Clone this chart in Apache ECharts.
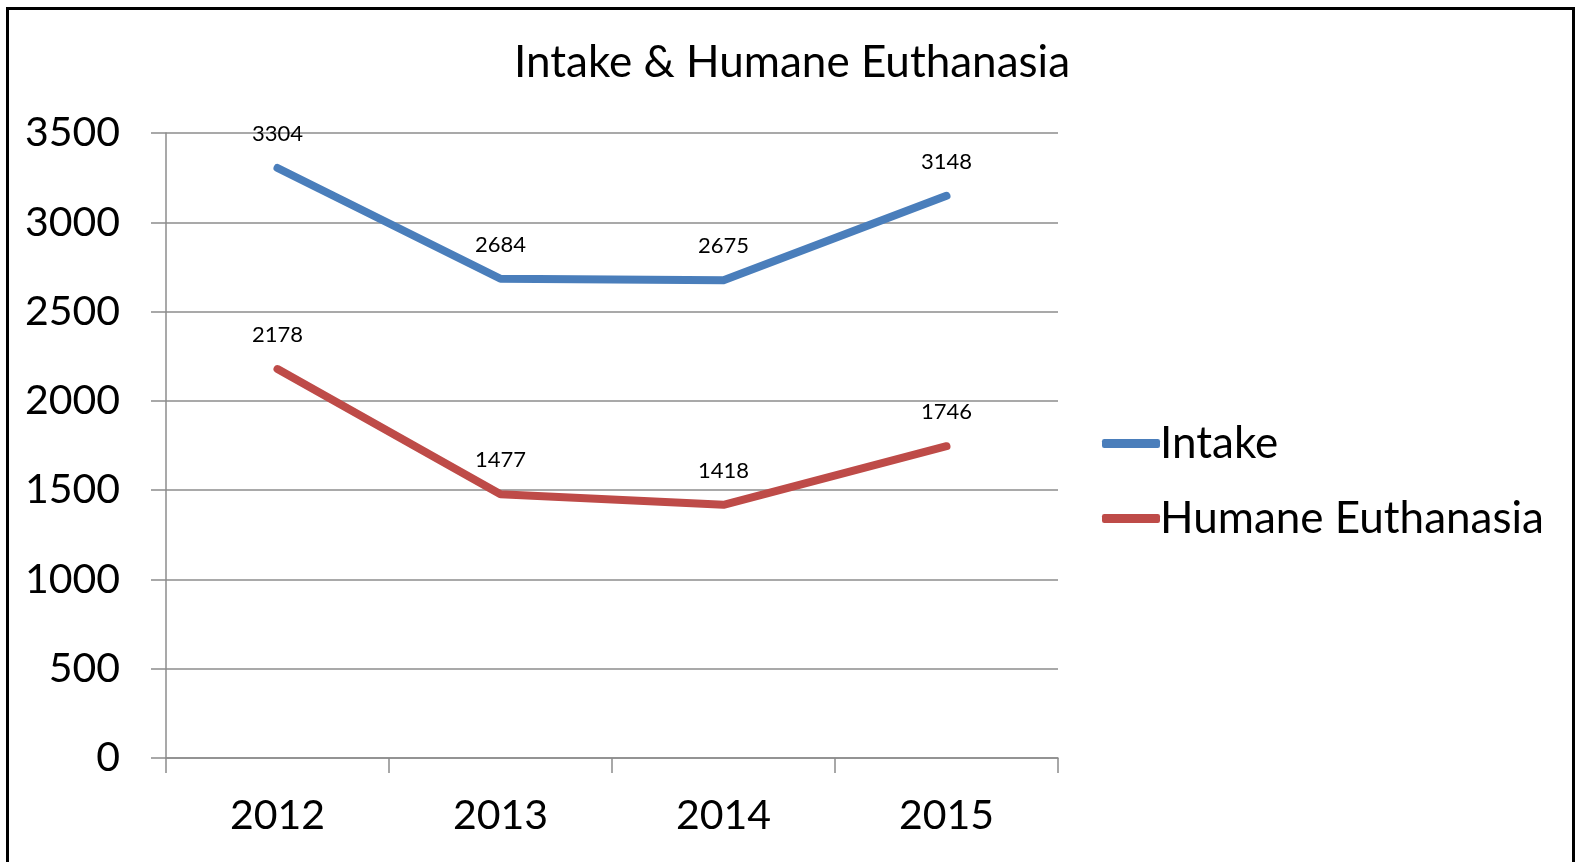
<!DOCTYPE html>
<html>
<head>
<meta charset="utf-8">
<script src="https://cdn.jsdelivr.net/npm/echarts@6/dist/echarts.min.js"></script>
<style>
html,body{margin:0;padding:0;background:#fff;overflow:hidden;}
#chart{width:1575px;height:862px;}
#frame{position:absolute;left:6px;top:7px;width:1569px;height:900px;border:3px solid #000;box-sizing:border-box;pointer-events:none;}
</style>
</head>
<body>
<div id="chart"></div>
<div id="frame"></div>
<script>
const titleText = 'Intake & Humane Euthanasia';
const categories = ['2012', '2013', '2014', '2015'];
const seriesNames = ['Intake', 'Humane Euthanasia'];
const intake = [3304, 2684, 2675, 3148];
const euthanasia = [2178, 1477, 1418, 1746];
const yTicks = [0, 500, 1000, 1500, 2000, 2500, 3000, 3500];

const FONT = 'Lato';
const gray = '#8c8c8c';
const chart = echarts.init(document.getElementById('chart'));
const labelStyle = { show: true, position: 'top', distance: 23, fontFamily: FONT, fontSize: 22, color: '#000' };
chart.setOption({
  animation: false,
  backgroundColor: '#fff',
  title: {
    text: titleText,
    left: 787, top: 58, textAlign: 'center', textVerticalAlign: 'middle',
    textStyle: { fontFamily: FONT, fontSize: 44, fontWeight: 'normal', color: '#000' }
  },
  legend: {
    orient: 'vertical',
    left: 1097, top: 416,
    itemWidth: 58, itemHeight: 9, itemGap: 30,
    icon: 'roundRect',
    textStyle: { fontFamily: FONT, fontSize: 44, color: '#000', lineHeight: 45, padding: [0,0,0,-5] },
    data: seriesNames
  },
  grid: { left: 166, right: 517, top: 133, bottom: 104 },
  xAxis: {
    type: 'category', data: categories, boundaryGap: true,
    axisLine: { lineStyle: { color: gray, width: 1.5 } },
    axisTick: { show: true, length: 15, lineStyle: { color: gray, width: 1.5 } },
    axisLabel: { fontFamily: FONT, fontSize: 41, color: '#000', margin: 37 }
  },
  yAxis: {
    type: 'value', min: yTicks[0], max: yTicks[yTicks.length-1], interval: yTicks[1]-yTicks[0],
    axisLine: { show: true, lineStyle: { color: gray, width: 1.5 } },
    axisTick: { show: true, length: 15, lineStyle: { color: gray, width: 1.5 } },
    splitLine: { lineStyle: { color: gray, width: 1.5 } },
    axisLabel: { fontFamily: FONT, fontSize: 41, color: '#000', margin: 46, formatter: v => String(v) }
  },
  series: [
    {
      name: seriesNames[0], type: 'line', data: intake, symbol: 'circle', symbolSize: 0.1, showSymbol: true,
      lineStyle: { color: '#4a7ebb', width: 8, cap: 'round', join: 'round' },
      itemStyle: { color: '#4a7ebb' },
      label: labelStyle
    },
    {
      name: seriesNames[1], type: 'line', data: euthanasia, symbol: 'circle', symbolSize: 0.1, showSymbol: true,
      lineStyle: { color: '#be4b48', width: 8, cap: 'round', join: 'round' },
      itemStyle: { color: '#be4b48' },
      label: labelStyle
    }
  ]
});
</script>
</body>
</html>
